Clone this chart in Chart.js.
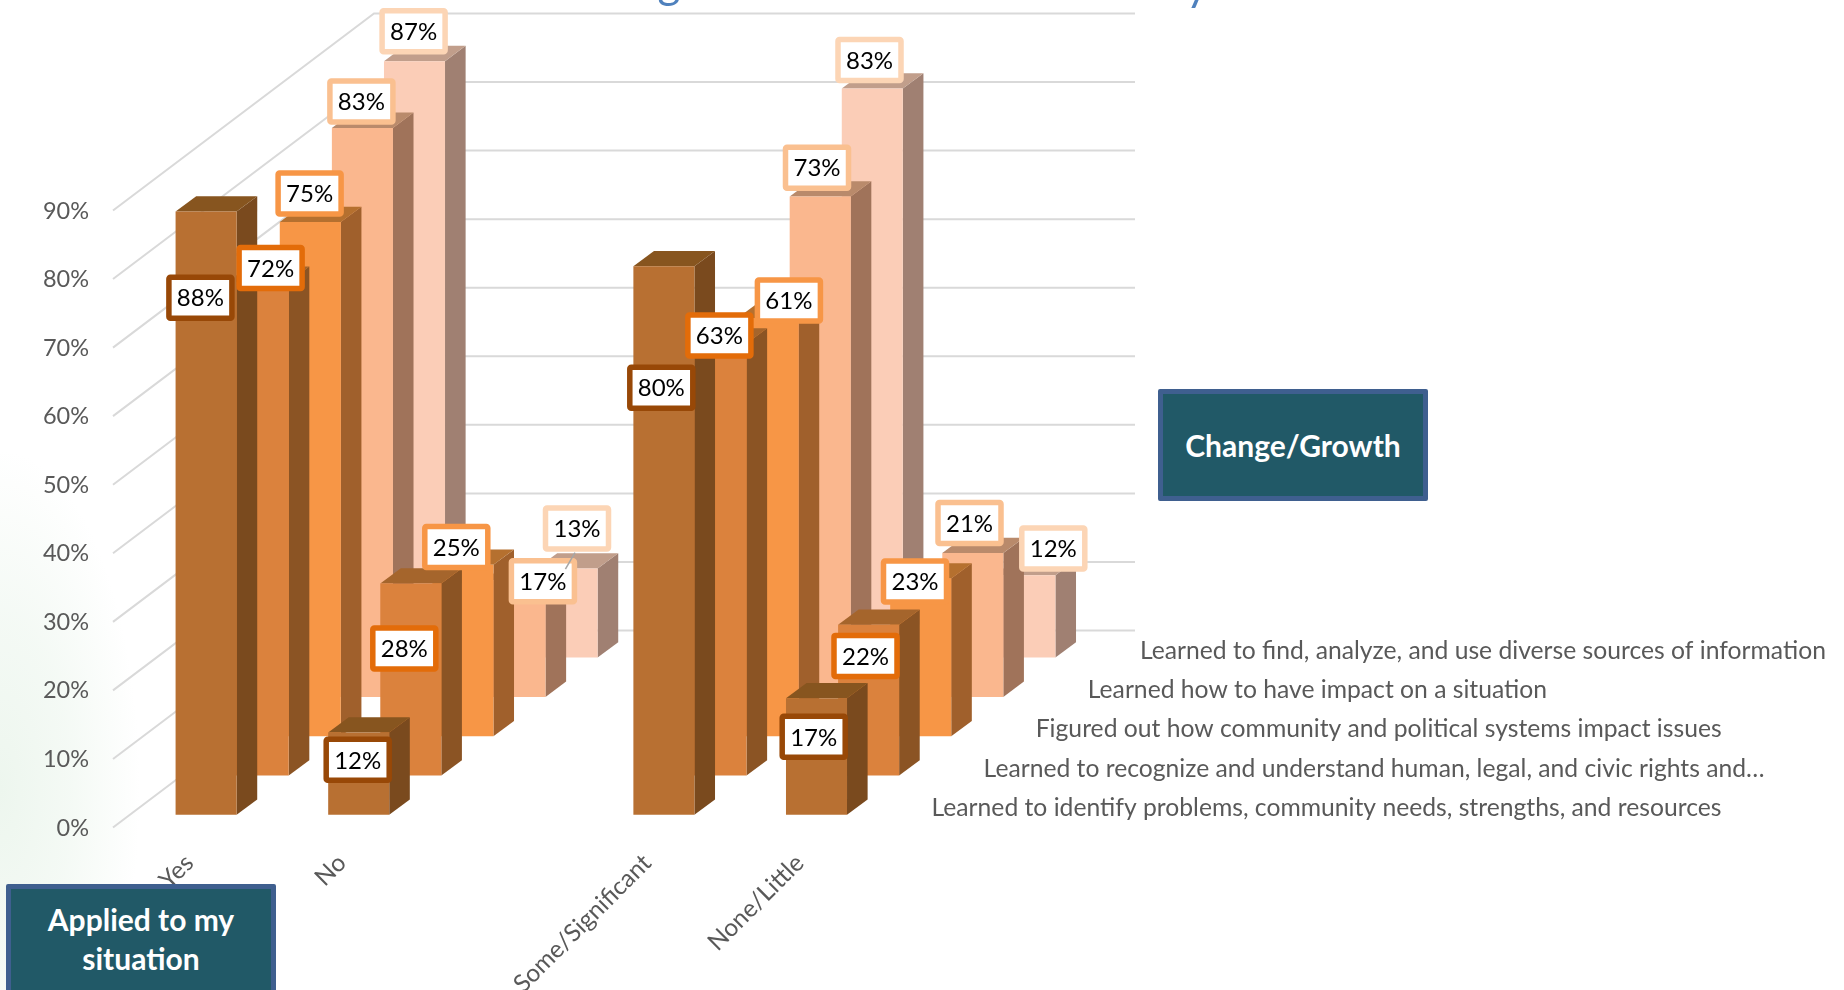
<!DOCTYPE html>
<html>
<head>
<meta charset="utf-8">
<title>Applied to my situation / Change/Growth</title>
<script src="https://cdn.jsdelivr.net/npm/chart.js@4"></script>
<style>
  html, body { margin: 0; padding: 0; width: 1844px; height: 990px; overflow: hidden; background: #fff; }
  body {
    background:
      radial-gradient(ellipse 140px 340px at 0px 790px, #edf6ee 0%, rgba(237,246,238,0.6) 50%, rgba(255,255,255,0) 100%),
      #fff;
  }
  #wrap { position: relative; width: 1844px; height: 990px; }
  canvas { position: absolute; left: 0; top: 0; }
  .tag {
    position: absolute; box-sizing: border-box;
    background: #215967; border: 5px solid #3f5f8f; border-radius: 2px;
    color: #fff; font: bold 30px/39px Lato, sans-serif; text-align: center;
  }
  #tagApplied { left: 6px; top: 884px; width: 270px; height: 120px; padding-top: 11px; }
  #tagChange { left: 1158px; top: 389px; width: 270px; height: 112px; padding-top: 32px; }
</style>
</head>
<body>
<div id="wrap">
  <canvas id="chart" width="1844" height="990"></canvas>
  <div class="tag" id="tagApplied">Applied to my<br>situation</div>
  <div class="tag" id="tagChange">Change/Growth</div>
</div>
<script>
const CATEGORIES = ['Yes', 'No', '', 'Some/Significant', 'None/Little']
const SERIES_NAMES = [
  'Learned to identify problems, community needs, strengths, and resources',
  'Learned to recognize and understand human, legal, and civic rights and…',
  'Figured out how community and political systems impact issues',
  'Learned how to have impact on a situation',
  'Learned to find, analyze, and use diverse sources of information'
]
const IDENTIFY = [88, 12, null, 80, 17]
const RIGHTS   = [72, 28, null, 63, 22]
const SYSTEMS  = [75, 25, null, 61, 23]
const IMPACT   = [83, 17, null, 73, 21]
const SOURCES  = [87, 13, null, 83, 12]
const Y_TICKS  = [0, 10, 20, 30, 40, 50, 60, 70, 80, 90]

const FRONT  = ['#b87032', '#db823d', '#f79646', '#fab78e', '#fbcdb7']
const SIDE   = ['#7a4a1e', '#8b5424', '#a0602c', '#a0735a', '#a08072']
const TOP    = ['#87551f', '#a5652c', '#b5702f', '#b98a6b', '#c19e8b']
const BORDER = ['#984807', '#e36c09', '#f79646', '#fac090', '#fcd5b5']

// oblique projection: one series step back, and the depth of one bar
const STEP_X = 52.1, STEP_Y = 39.3
const FRONT_GAP_X = 16.8, FRONT_GAP_Y = 12.7
const BAR_DX = 20.6, BAR_DY = 15.3
const WALL_DX = 261, WALL_DY = 197
const FONT = 'Lato, sans-serif'

// data labels were moved by hand in the original, [dx, dy] from bar top centre
const LABEL_NUDGE = [
  [[-5.7, 87.2], [-1, 28.3], null, [-2.6, 122.3], [-2.8, 39.6]],
  [[12.4, -12.8], [-6.5, 65.9], null, [3.4, -7], [-3.1, 32.2]],
  [[-0.7, -27.6], [-6.6, -16.9], null, [20.8, -16.5], [-5.7, 3.9]],
  [[-1, -25.3], [27.9, 1.9], null, [-3.2, -27.7], [-3.3, -29]],
  [[-0.9, -29], [9.9, -38.9], null, [-2.8, -27.7], [28.4, -25.8]]
]

const shiftX = i => FRONT_GAP_X + STEP_X * i
const shiftY = i => FRONT_GAP_Y + STEP_Y * i

function poly(ctx, pts, fill) {
  ctx.beginPath()
  pts.forEach(([x, y], k) => k ? ctx.lineTo(x, y) : ctx.moveTo(x, y))
  ctx.closePath()
  ctx.fillStyle = fill
  ctx.fill()
}

const walls = {
  id: 'walls',
  beforeDatasetsDraw(chart) {
    const { ctx, scales: { y }, chartArea: a } = chart
    ctx.save()
    ctx.strokeStyle = '#d9d9d9'
    ctx.lineWidth = 2
    Y_TICKS.forEach(t => {
      const py = y.getPixelForValue(t)
      ctx.beginPath()
      ctx.moveTo(a.left, py)
      ctx.lineTo(a.left + WALL_DX, py - WALL_DY)
      ctx.lineTo(a.right + WALL_DX - 2, py - WALL_DY)
      ctx.stroke()
    })
    // clipped title, only the descenders show
    ctx.fillStyle = '#4f81bd'
    ctx.font = '44px ' + FONT
    ctx.textAlign = 'center'
    ctx.fillText('g', 669, -2)
    ctx.fillText('y', 1197, 0)
    ctx.restore()
  }
}

const bars3d = {
  id: 'bars3d',
  beforeDatasetDraw(chart, { index, meta }) {
    const { ctx } = chart
    ctx.save()
    ctx.translate(shiftX(index), -shiftY(index))
    meta.data.forEach((el, j) => {
      if (CHART_VALUES[index][j] == null) return
      const r = el.x + el.width / 2, l = el.x - el.width / 2
      poly(ctx, [[r, el.y], [r + BAR_DX, el.y - BAR_DY], [r + BAR_DX, el.base - BAR_DY], [r, el.base]], SIDE[index])
      poly(ctx, [[l, el.y], [l + BAR_DX, el.y - BAR_DY], [r + BAR_DX, el.y - BAR_DY], [r, el.y]], TOP[index])
    })
  },
  afterDatasetDraw(chart) {
    chart.ctx.restore()
  }
}

const valueLabels = {
  id: 'valueLabels',
  afterDatasetsDraw(chart) {
    const { ctx } = chart
    const W = 63, H = 41
    ctx.save()
    ctx.font = '24px ' + FONT
    ctx.textAlign = 'center'
    ctx.textBaseline = 'middle'
    for (let i = CHART_VALUES.length - 1; i >= 0; i--) {
      chart.getDatasetMeta(i).data.forEach((el, j) => {
        const v = CHART_VALUES[i][j]
        if (v == null) return
        const [nx, ny] = LABEL_NUDGE[i][j]
        const cx = el.x + shiftX(i) + nx
        const cy = el.y - shiftY(i) + ny - 1
        ctx.fillStyle = '#fff'
        ctx.strokeStyle = BORDER[i]
        ctx.lineWidth = 5.5
        ctx.beginPath()
        ctx.roundRect(cx - W / 2, cy - H / 2, W, H, 1.5)
        ctx.fill()
        ctx.stroke()
        ctx.fillStyle = '#000'
        ctx.fillText(v + '%', cx, cy + 1)
      })
    }
    // leader line of the 13% label
    const el = chart.getDatasetMeta(4).data[1]
    const [nx, ny] = LABEL_NUDGE[4][1]
    const cx = el.x + shiftX(4) + nx, cy = el.y - shiftY(4) + ny - 1
    ctx.strokeStyle = '#a6a6a6'
    ctx.lineWidth = 1.5
    ctx.beginPath()
    ctx.moveTo(cx - 2, cy + 24)
    ctx.lineTo(cx - 11.6, cy + 40.6)
    ctx.stroke()
    ctx.restore()
  }
}

const seriesAxis = {
  id: 'seriesAxis',
  afterDraw(chart) {
    const { ctx, chartArea: a } = chart
    ctx.save()
    ctx.font = '24.7px ' + FONT
    ctx.fillStyle = '#595959'
    ctx.textAlign = 'left'
    ctx.textBaseline = 'middle'
    SERIES_NAMES.forEach((name, i) => {
      ctx.fillText(name, a.right + 55.5 + STEP_X * i, a.bottom - 19.5 - STEP_Y * i)
    })
    ctx.restore()
  }
}

const CHART_VALUES = [IDENTIFY, RIGHTS, SYSTEMS, IMPACT, SOURCES]

new Chart(document.getElementById('chart').getContext('2d'), {
  type: 'bar',
  data: {
    labels: CATEGORIES,
    datasets: CHART_VALUES.map((data, i) => ({
      label: SERIES_NAMES[i],
      data,
      backgroundColor: FRONT[i],
      borderWidth: 0,
      grouped: false,
      clip: false,
      barPercentage: 0.4,
      categoryPercentage: 1
    }))
  },
  plugins: [walls, bars3d, valueLabels, seriesAxis],
  options: {
    responsive: false,
    animation: false,
    layout: { padding: { left: 0, top: 210.5, right: 968, bottom: 0 } },
    plugins: { legend: { display: false }, tooltip: { enabled: false } },
    scales: {
      x: {
        grid: { display: false },
        border: { display: false },
        afterFit: s => { s.height = 162.5 },
        ticks: {
          autoSkip: false, minRotation: 45, maxRotation: 45, padding: 13,
          color: '#595959', font: { family: FONT, size: 24.5 }
        }
      },
      y: {
        min: 0,
        max: 90,
        grid: { display: false },
        border: { display: false },
        afterFit: s => { s.width = 113 },
        afterBuildTicks: s => { s.ticks = Y_TICKS.map(value => ({ value })) },
        ticks: {
          padding: 16,
          labelOffset: 0.5,
          color: '#595959',
          font: { family: FONT, size: 23.5 },
          callback: v => v + '%'
        }
      }
    }
  }
})
</script>
</body>
</html>
